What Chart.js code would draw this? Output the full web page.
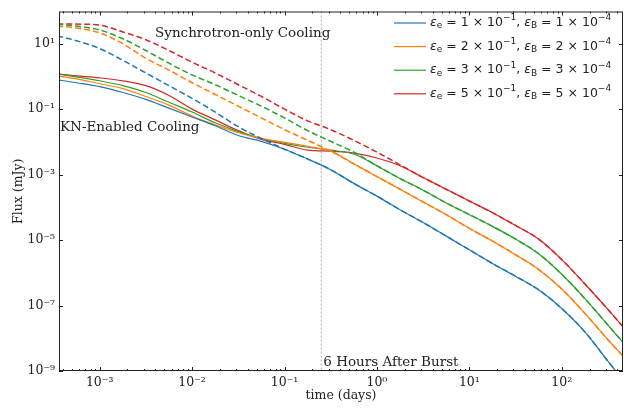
<!DOCTYPE html>
<html>
<head>
<meta charset="utf-8">
<script src="https://cdn.jsdelivr.net/npm/chart.js@4.4.1/dist/chart.umd.min.js"></script>
<style>
  body { margin: 0; background: #fff; }
  canvas { display: block; }
</style>
</head>
<body>
<canvas id="lightCurve" width="624" height="412"></canvas>
<script>
// time since burst (days)
const times = [3.47e-4, 5.62e-4, 1e-3, 1.78e-3, 3.16e-3, 5.62e-3, 0.01, 0.0178, 0.0316, 0.0562, 0.1, 0.178, 0.316,
  0.562, 1, 1.78, 3.16, 5.62, 10, 17.8, 31.6, 56.2, 100, 178, 316, 463];

// flux (mJy), KN-enabled cooling (solid)
const kn1 = [0.787, 0.640, 0.486, 0.322, 0.199, 0.107, 0.0577, 0.0311, 0.0156, 0.0104, 0.00597, 0.00300, 0.00141,
  5.39e-4, 2.20e-4, 8.41e-5, 3.44e-5, 1.32e-5, 5.03e-6, 1.92e-6, 7.87e-7, 3.01e-7, 8.1e-8, 1.56e-8, 1.99e-9, 5.03e-10];
const kn2 = [1.04, 0.842, 0.597, 0.424, 0.244, 0.132, 0.0618, 0.0333, 0.0192, 0.0127, 0.00966, 0.00735, 0.00520,
  0.00213, 8.71e-4, 3.57e-4, 1.46e-4, 5.97e-5, 2.28e-5, 9.33e-6, 3.56e-6, 1.27e-6, 3.2e-7, 5.77e-8, 9.02e-9, 2.80e-9];
const kn3 = [1.19, 0.966, 0.734, 0.520, 0.322, 0.162, 0.0813, 0.0382, 0.0206, 0.0127, 0.00902, 0.00685, 0.00557,
  0.00424, 0.00186, 7.60e-4, 3.33e-4, 1.36e-4, 5.97e-5, 2.62e-5, 1.07e-5, 3.82e-6, 9.0e-7, 1.62e-7, 2.53e-8, 7.34e-9];
const kn4 = [1.19, 1.04, 0.902, 0.734, 0.520, 0.262, 0.100, 0.0469, 0.0220, 0.0119, 0.00842, 0.00557, 0.00520,
  0.00454, 0.00321, 0.00186, 8.13e-4, 3.57e-4, 1.56e-4, 6.85e-5, 2.80e-5, 1.07e-5, 2.53e-6, 4.54e-7, 7.60e-8, 2.20e-8];

// flux (mJy), synchrotron-only cooling (dashed)
const syn1 = [17.3, 12.3, 7.09, 3.11, 1.27, 0.520, 0.213, 0.0813, 0.0290, 0.0127, 0.00597, 0.00300, 0.00141,
  5.39e-4, 2.20e-4, 8.41e-5, 3.44e-5, 1.32e-5, 5.03e-6, 1.92e-6, 7.87e-7, 3.01e-7, 8.1e-8, 1.56e-8, 1.99e-9, 5.03e-10];
const syn2 = [34.4, 30.0, 21.3, 10.0, 3.57, 1.56, 0.640, 0.280, 0.123, 0.0539, 0.0236, 0.0111, 0.00520,
  0.00213, 8.71e-4, 3.57e-4, 1.46e-4, 5.97e-5, 2.28e-5, 9.33e-6, 3.56e-6, 1.27e-6, 3.2e-7, 5.77e-8, 9.02e-9, 2.80e-9];
const syn3 = [39.5, 34.4, 26.2, 14.1, 6.18, 2.53, 1.11, 0.557, 0.262, 0.123, 0.0539, 0.0220, 0.0104,
  0.00486, 0.00186, 7.60e-4, 3.33e-4, 1.36e-4, 5.97e-5, 2.62e-5, 1.07e-5, 3.82e-6, 9.0e-7, 1.62e-7, 2.53e-8, 7.34e-9];
const syn4 = [39.5, 39.5, 36.9, 22.8, 13.2, 6.18, 2.71, 1.27, 0.557, 0.244, 0.100, 0.0438, 0.0236,
  0.0111, 0.00486, 0.00199, 8.13e-4, 3.57e-4, 1.56e-4, 6.85e-5, 2.80e-5, 1.07e-5, 2.53e-6, 4.54e-7, 7.60e-8, 2.20e-8];

const epsE = [1, 2, 3, 5];   // x 10^-1
const epsB = [1, 2, 3, 5];   // x 10^-4
const colors = ['#1f77b4', '#ff7f0e', '#2ca02c', '#d62728'];
const knSeries = [kn1, kn2, kn3, kn4];
const synSeries = [syn1, syn2, syn3, syn4];

const xTicks = [1e-3, 1e-2, 1e-1, 1, 10, 100];
const yTicks = [1e-9, 1e-7, 1e-5, 1e-3, 1e-1, 10];
const sixHours = 0.25;

const serif = '"DejaVu Serif", serif';
const SUP = { '-': '⁻', '0': '⁰', '1': '¹', '2': '²', '3': '³', '4': '⁴', '5': '⁵', '6': '⁶', '7': '⁷', '8': '⁸', '9': '⁹' };
function powLabel(v) {
  const e = String(Math.round(Math.log10(v)));
  return '10' + e.split('').map(c => SUP[c]).join('');
}

const datasets = [];
for (let i = 0; i < 4; i++) {
  datasets.push({
    label: 'syn ' + i,
    data: times.map((t, k) => ({ x: t, y: synSeries[i][k] })),
    borderColor: colors[i],
    borderWidth: 1.5,
    borderDash: [6, 3],
    fill: false,
  });
}
for (let i = 0; i < 4; i++) {
  datasets.push({
    label: 'kn ' + i,
    data: times.map((t, k) => ({ x: t, y: knSeries[i][k] })),
    borderColor: colors[i],
    borderWidth: 1.2,
    fill: false,
  });
}

function drawLegendText(ctx, x, y, e, b) {
  const base = '12.5px "DejaVu Sans"';
  const ital = 'italic 12.5px "DejaVu Sans"';
  const small = '9px "DejaVu Sans"';
  const parts = [
    [ital, 'ε', 0], [small, 'e', 3], [base, ' = ' + e + ' × 10', 0], [small, '−1', -5], [base, ', ', 0],
    [ital, 'ε', 0], [small, 'B', 3], [base, ' = ' + b + ' × 10', 0], [small, '−4', -5],
  ];
  for (const [f, t, dy] of parts) {
    ctx.font = f;
    ctx.fillText(t, x, y + dy);
    x += ctx.measureText(t).width;
  }
}

const decor = {
  id: 'decor',
  beforeDatasetsDraw(chart) {
    const { ctx, chartArea: a, scales: { x } } = chart;
    const px = x.getPixelForValue(sixHours);
    ctx.save();
    ctx.strokeStyle = '#aaaaaa';
    ctx.lineWidth = 1;
    ctx.setLineDash([2, 2]);
    ctx.beginPath();
    ctx.moveTo(px, a.top);
    ctx.lineTo(px, a.bottom);
    ctx.stroke();
    ctx.restore();
  },
  afterDraw(chart) {
    const { ctx, chartArea: a, scales: { x, y } } = chart;
    ctx.save();
    ctx.strokeStyle = '#222';
    ctx.lineWidth = 1;

    // inward ticks, all four sides
    ctx.beginPath();
    for (let d = -4; d <= 3; d++) {
      for (let m = 1; m <= 9; m++) {
        const v = m * Math.pow(10, d);
        if (v < x.min || v > x.max) continue;
        const px = Math.round(x.getPixelForValue(v)) + 0.5;
        const len = m === 1 ? 4 : 2;
        ctx.moveTo(px, a.bottom); ctx.lineTo(px, a.bottom - len);
        ctx.moveTo(px, a.top); ctx.lineTo(px, a.top + len);
      }
    }
    yTicks.forEach(v => {
      const py = Math.round(y.getPixelForValue(v)) + 0.5;
      ctx.moveTo(a.left, py); ctx.lineTo(a.left + 4, py);
      ctx.moveTo(a.right, py); ctx.lineTo(a.right - 4, py);
    });
    ctx.stroke();
    ctx.strokeRect(a.left + 0.5, a.top + 0.5, a.right - a.left - 1, a.bottom - a.top - 1);

    // annotations
    ctx.fillStyle = '#222';
    ctx.textBaseline = 'middle';
    ctx.font = '13.5px ' + serif;
    ctx.fillText('Synchrotron-only Cooling', 155, 33);
    ctx.fillText('KN-Enabled Cooling', a.left + 1, 127);
    ctx.fillText('6 Hours After Burst', x.getPixelForValue(sixHours) + 2, 362);

    // legend
    for (let i = 0; i < 4; i++) {
      const ly = 23 + i * 23.6;
      ctx.strokeStyle = colors[i];
      ctx.lineWidth = 1.2;
      ctx.beginPath();
      ctx.moveTo(394, ly);
      ctx.lineTo(426, ly);
      ctx.stroke();
      ctx.fillStyle = '#222';
      drawLegendText(ctx, 430, ly, epsE[i], epsB[i]);
    }
    ctx.restore();
  }
};

const ctx = document.getElementById('lightCurve').getContext('2d');
const lightChart = new Chart(ctx, {
  type: 'line',
  data: { datasets: datasets },
  plugins: [decor],
  options: {
    responsive: false,
    animation: false,
    layout: { padding: { top: 4, right: 1, left: 0, bottom: 0 } },
    elements: {
      point: { radius: 0 },
      line: { cubicInterpolationMode: 'monotone' },
    },
    plugins: {
      legend: { display: false },
      tooltip: { enabled: false },
    },
    scales: {
      x: {
        type: 'logarithmic',
        min: 3.63e-4,
        max: 460,
        grid: { display: false, drawTicks: false },
        border: { display: false },
        afterBuildTicks: s => { s.ticks = xTicks.map(v => ({ value: v })); },
        afterFit: s => { s.height = 41; },
        ticks: {
          autoSkip: false,
          maxRotation: 0,
          padding: 4,
          color: '#222',
          font: { family: serif, size: 12.5 },
          callback: v => powLabel(v),
        },
        title: {
          display: true,
          text: 'time (days)',
          color: '#222',
          font: { family: serif, size: 12.5 },
          padding: { top: 0, bottom: 9 },
        },
      },
      y: {
        type: 'logarithmic',
        min: 1e-9,
        max: 96,
        grid: { display: false, drawTicks: false },
        border: { display: false },
        afterBuildTicks: s => { s.ticks = yTicks.map(v => ({ value: v })); },
        afterFit: s => { s.width = 59; },
        ticks: {
          autoSkip: false,
          padding: 4,
          color: '#222',
          font: { family: serif, size: 12.5 },
          callback: v => powLabel(v),
        },
        title: {
          display: true,
          text: 'Flux (mJy)',
          color: '#222',
          font: { family: serif, size: 12.5 },
          padding: { top: 11, bottom: 0 },
        },
      },
    },
  },
});
</script>
</body>
</html>
